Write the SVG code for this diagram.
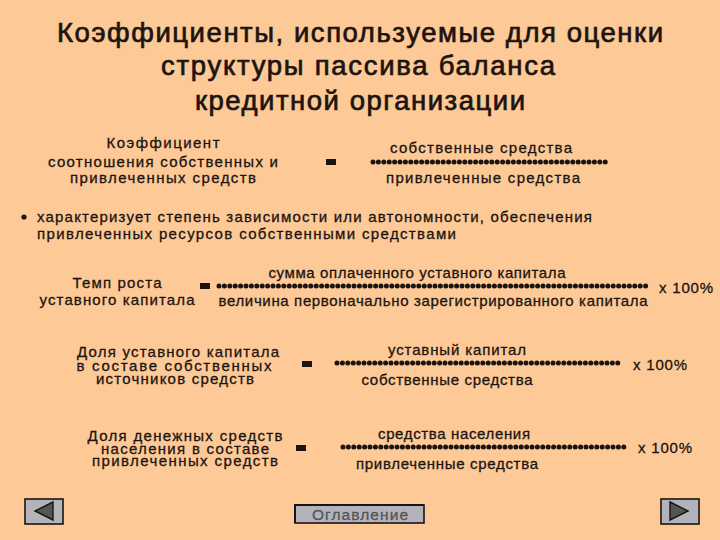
<svg xmlns="http://www.w3.org/2000/svg" width="720" height="540" viewBox="0 0 720 540">
<style>
text{font-family:"Liberation Sans",Arial,sans-serif;fill:#1c1410;stroke:#1c1410;stroke-width:.3;font-size:15px;text-anchor:middle}
.h{font-size:27.5px;stroke-width:.7}
.s{text-anchor:start}
.d{stroke:#1c1410;stroke-width:5;stroke-linecap:round;stroke-dasharray:0 5.4;fill:none}
.e{fill:#1c1410}
.b{fill:#b3b3bb;stroke:#1c1410;stroke-width:1.6}
.t{fill:#555;stroke:#1c1410;stroke-width:1.4}
.o{fill:#555;stroke:#555;font-size:15.5px}
.k{stroke:#1c1410;stroke-width:2;fill:none}
</style>
<rect width="720" height="540" fill="#fdc997"/>
<text class="h" x="360" y="42" textLength="606" lengthAdjust="spacing">Коэффициенты, используемые для оценки</text>
<text class="h" x="358" y="75" textLength="394" lengthAdjust="spacing">структуры пассива баланса</text>
<text class="h" x="360" y="110" textLength="330" lengthAdjust="spacing">кредитной организации</text>

<text x="163" y="148" textLength="113" lengthAdjust="spacing">Коэффициент</text>
<text x="163" y="167" textLength="230" lengthAdjust="spacing">соотношения собственных и</text>
<text x="163" y="183" textLength="186" lengthAdjust="spacing">привлеченных средств</text>
<rect class="e" x="326" y="159" width="10" height="6"/>
<text x="481" y="153" textLength="182" lengthAdjust="spacing">собственные средства</text>
<line class="d" x1="373" y1="162" x2="607" y2="162"/>
<text x="483" y="183" textLength="194" lengthAdjust="spacing">привлеченные средства</text>

<circle class="e" cx="24" cy="217" r="2.6"/>
<text class="s" x="37" y="222" textLength="555" lengthAdjust="spacing">характеризует степень зависимости или автономности, обеспечения</text>
<text class="s" x="37" y="239" textLength="419" lengthAdjust="spacing">привлеченных ресурсов собственными средствами</text>

<text x="117" y="288" textLength="89" lengthAdjust="spacing">Темп роста</text>
<text x="117" y="305" textLength="155" lengthAdjust="spacing">уставного капитала</text>
<rect class="e" x="200" y="283" width="10" height="6"/>
<text x="417" y="278" textLength="297" lengthAdjust="spacing">сумма оплаченного уставного капитала</text>
<line class="d" x1="219" y1="286" x2="649" y2="286"/>
<text x="433" y="306" textLength="429" lengthAdjust="spacing">величина первоначально зарегистрированного капитала</text>
<text x="686" y="293" textLength="54" lengthAdjust="spacing">х 100%</text>

<text x="178" y="357" textLength="202" lengthAdjust="spacing">Доля уставного капитала</text>
<text x="174" y="371" textLength="195" lengthAdjust="spacing">в составе собственных</text>
<text x="175" y="384" textLength="158" lengthAdjust="spacing">источников средств</text>
<rect class="e" x="302" y="361" width="10" height="6"/>
<text x="457" y="355" textLength="138" lengthAdjust="spacing">уставный капитал</text>
<line class="d" x1="337" y1="363" x2="620" y2="363"/>
<text x="447" y="385" textLength="171" lengthAdjust="spacing">собственные средства</text>
<text x="660" y="370" textLength="54" lengthAdjust="spacing">х 100%</text>

<text x="185" y="441" textLength="195" lengthAdjust="spacing">Доля денежных средств</text>
<text x="185" y="454" textLength="168" lengthAdjust="spacing">населения в составе</text>
<text x="185" y="466" textLength="186" lengthAdjust="spacing">привлеченных средств</text>
<rect class="e" x="296" y="445" width="10" height="6"/>
<text x="454" y="439" textLength="152" lengthAdjust="spacing">средства населения</text>
<line class="d" x1="343" y1="447" x2="625" y2="447"/>
<text x="447" y="469" textLength="182" lengthAdjust="spacing">привлеченные средства</text>
<text x="665" y="453" textLength="54" lengthAdjust="spacing">х 100%</text>

<rect class="b" x="25" y="499" width="38" height="25"/>
<polygon class="t" points="53,502 35,511 53,520"/>
<rect class="b" x="661" y="499" width="38" height="25"/>
<polygon class="t" points="670,502 688,511 670,520"/>
<rect class="b" x="295" y="505" width="129" height="18"/>
<path class="k" d="M295 523V505H424"/>
<text class="o" x="360" y="520" textLength="96" lengthAdjust="spacing">Оглавление</text>
</svg>
